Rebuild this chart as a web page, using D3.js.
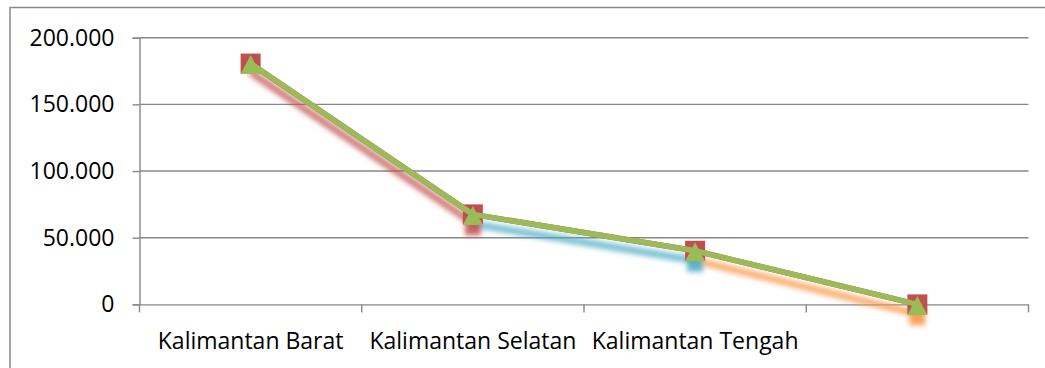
<!DOCTYPE html>
<html>
<head>
<meta charset="utf-8">
<script src="https://cdn.jsdelivr.net/npm/d3@7"></script>
<style>
  html, body { margin: 0; padding: 0; background: #fff; }
  svg { display: block; }
  text { font-family: "Open Sans", "Liberation Sans", sans-serif; fill: #000; }
</style>
</head>
<body>
<svg id="chart" width="1045" height="368"></svg>
<script>
// ---- data ----
const categories = ["Kalimantan Barat", "Kalimantan Selatan", "Kalimantan Tengah", ""];
const seriesRed = [180600, 67500, 40200, 0];
const seriesGreen = [180600, 67500, 40200, 0];
const yTicks = [0, 50000, 100000, 150000, 200000];
const shadowColors = ["#C0504D", "#4BACC6", "#F79646"];

// ---- layout ----
const plot = { left: 139.5, right: 1028.5, top: 37.7, bottom: 304.4 };
const fontSize = 23;

const svg = d3.select("#chart");

const x = d3.scaleBand().domain(categories).range([plot.left, plot.right]);
const y = d3.scaleLinear().domain([0, 200000]).range([plot.bottom, plot.top]);
const cx = (i) => x(categories[i]) + x.bandwidth() / 2;

const locale = d3.formatLocale({ decimal: ",", thousands: ".", grouping: [3], currency: ["Rp", ""] });
const fmt = locale.format(",d");

// defs
const defs = svg.append("defs");
defs.append("filter").attr("id", "blur")
  .attr("x", "-20%").attr("y", "-20%").attr("width", "140%").attr("height", "140%")
  .append("feGaussianBlur").attr("stdDeviation", 2.6);

// outer frame
svg.append("rect")
  .attr("x", 10).attr("y", 7.5).attr("width", 1100).attr("height", 400)
  .attr("fill", "none").attr("stroke", "#888").attr("stroke-width", 1.5);

// gridlines
svg.append("g").selectAll("line").data(yTicks.filter(d => d > 0)).join("line")
  .attr("x1", plot.left).attr("x2", plot.right)
  .attr("y1", d => y(d)).attr("y2", d => y(d))
  .attr("stroke", "#888").attr("stroke-width", 1.4);

// y axis
const yAxis = svg.append("g").attr("transform", `translate(${plot.left},0)`)
  .call(d3.axisLeft(y).tickValues(yTicks).tickSize(7).tickPadding(18).tickFormat(fmt));
yAxis.selectAll("path.domain").attr("stroke", "#888").attr("stroke-width", 1.4);
yAxis.selectAll(".tick line").attr("stroke", "#888").attr("stroke-width", 1.4);
yAxis.selectAll("text").attr("font-size", fontSize).attr("font-family", null).attr("fill", "#000");

// x axis
const xAxis = svg.append("g").attr("transform", `translate(0,${plot.bottom})`)
  .call(d3.axisBottom(x).tickSize(0).tickPadding(0));
xAxis.select("path.domain").attr("stroke", "#888").attr("stroke-width", 1.4);
xAxis.selectAll(".tick text").attr("font-size", fontSize).attr("font-family", null)
  .attr("fill", "#000").attr("y", 28).attr("dy", "0.71em");
// category boundary ticks
const edges = categories.map(c => x(c)).concat([x.range()[1]]);
xAxis.append("g").selectAll("line").data(edges).join("line")
  .attr("x1", d => d).attr("x2", d => d).attr("y1", 0).attr("y2", 8)
  .attr("stroke", "#888").attr("stroke-width", 1.4);

// shadows of the lines (blurred, offset)
const shadowG = svg.append("g").attr("filter", "url(#blur)");
const segs = d3.range(seriesRed.length - 1).map(i => ({
  x1: cx(i), y1: y(seriesRed[i]), x2: cx(i + 1), y2: y(seriesRed[i + 1]), c: shadowColors[i]
}));
shadowG.selectAll("line").data(segs).join("line")
  .attr("x1", d => d.x1 + 2).attr("y1", d => d.y1 + 10)
  .attr("x2", d => d.x2 + 2).attr("y2", d => d.y2 + 10)
  .attr("stroke", d => d.c).attr("stroke-width", 7.5).attr("stroke-opacity", 0.72)
  .attr("stroke-linecap", "round");
shadowG.selectAll("rect").data(segs).join("rect")
  .attr("x", d => d.x2 - 8).attr("y", d => d.y2 + 4)
  .attr("width", 16).attr("height", 17)
  .attr("fill", d => d.c).attr("fill-opacity", 0.85);

// red series
const line = d3.line().x((d, i) => cx(i)).y(d => y(d));
svg.append("path").datum(seriesRed).attr("d", line)
  .attr("fill", "none").attr("stroke", "#C0504D").attr("stroke-width", 5.5).attr("stroke-linejoin", "round");
svg.append("g").selectAll("rect").data(seriesRed).join("rect")
  .attr("x", (d, i) => cx(i) - 10).attr("y", d => y(d) - 10)
  .attr("width", 20).attr("height", 20).attr("fill", "#C0504D");

// green series
svg.append("path").datum(seriesGreen).attr("d", line)
  .attr("fill", "none").attr("stroke", "#9BBB59").attr("stroke-width", 5.5).attr("stroke-linejoin", "round");
svg.append("g").selectAll("path").data(seriesGreen).join("path")
  .attr("d", (d, i) => {
    const px = cx(i), py = y(d);
    return `M${px},${py - 8.5}L${px + 10},${py + 10.5}L${px - 10},${py + 10.5}Z`;
  })
  .attr("fill", "#9BBB59");
</script>
</body>
</html>
